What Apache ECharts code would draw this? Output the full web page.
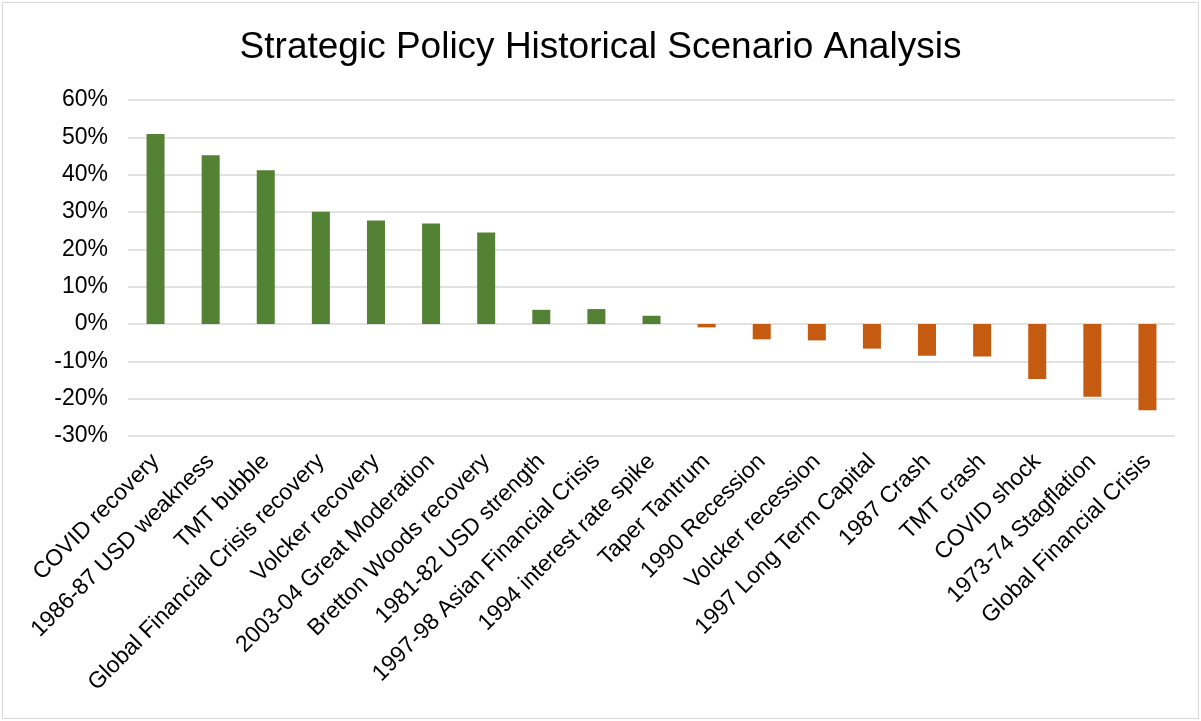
<!DOCTYPE html>
<html>
<head>
<meta charset="utf-8">
<script src="https://cdn.jsdelivr.net/npm/echarts@6/dist/echarts.min.js"></script>
<style>
  html, body { margin: 0; padding: 0; background: #fff; }
  #chart { position: absolute; left: 2px; top: 2px; width: 1195px; height: 715px; border: 1px solid #d9d9d9; }
</style>
</head>
<body>
<div id="chart"></div>
<script>
  // scenario names, sorted by return
  var scenarios = [
    'COVID recovery', '1986-87 USD weakness', 'TMT bubble', 'Global Financial Crisis recovery',
    'Volcker recovery', '2003-04 Great Moderation', 'Bretton Woods recovery', '1981-82 USD strength',
    '1997-98 Asian Financial Crisis', '1994 interest rate spike', 'Taper Tantrum', '1990 Recession',
    'Volcker recession', '1997 Long Term Capital', '1987 Crash', 'TMT crash', 'COVID shock',
    '1973-74 Stagflation', 'Global Financial Crisis'
  ]
  // returns in %
  var returns = [50.9, 45.2, 41.2, 30.1, 27.7, 26.9, 24.5, 3.8, 4.0, 2.2,
    -0.9, -4.1, -4.4, -6.6, -8.5, -8.7, -14.7, -19.5, -23.1]
  var yTicks = [-30, -20, -10, 0, 10, 20, 30, 40, 50, 60]

  var chart = echarts.init(document.getElementById('chart'))
  var option = {
    animation: false,
    textStyle: { fontFamily: 'Liberation Sans, Arial, sans-serif' },
    title: {
      text: 'Strategic Policy Historical Scenario Analysis',
      left: 'center',
      top: 21,
      textStyle: { fontSize: 37, fontWeight: 'normal', color: '#000' }
    },
    grid: { left: 125, right: 23, top: 97, bottom: 282 },
    xAxis: {
      type: 'category',
      data: scenarios,
      axisLine: { show: false },
      axisTick: { show: false },
      axisLabel: { interval: 0, rotate: 45, fontSize: 23, color: '#000', margin: 22 }
    },
    yAxis: {
      type: 'value',
      min: yTicks[0],
      max: yTicks[yTicks.length - 1],
      interval: 10,
      axisLine: { show: false },
      axisTick: { show: false },
      axisLabel: { fontSize: 23, color: '#000', margin: 20, formatter: '{value}%' },
      splitLine: { lineStyle: { color: '#d9d9d9', width: 1.5 } }
    },
    series: [{
      type: 'bar',
      data: returns,
      barWidth: 18,
      itemStyle: {
        color: function (p) { return p.value >= 0 ? '#548235' : '#c55a11' }
      }
    }]
  }
  chart.setOption(option)
</script>
</body>
</html>
